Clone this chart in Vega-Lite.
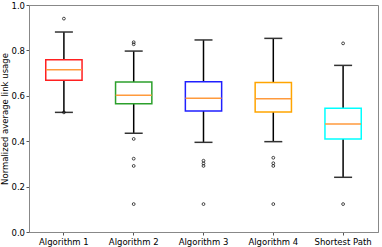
{
  "$schema": "https://vega.github.io/schema/vega-lite/v6.json",
  "width": 349,
  "height": 227,
  "autosize": "none",
  "padding": {"left": 29, "top": 5, "right": 4, "bottom": 15},
  "background": "white",
  "config": {
    "font": "DejaVu Sans",
    "view": {"stroke": "#888", "strokeWidth": 1},
    "axis": {
      "labelFont": "DejaVu Sans",
      "labelFontSize": 8.5,
      "labelColor": "black",
      "titleFont": "DejaVu Sans",
      "titleFontSize": 8.5,
      "titleFontWeight": "normal",
      "titleColor": "black",
      "domainColor": "#888",
      "tickColor": "#555",
      "tickSize": 3,
      "grid": false
    }
  },
  "datasets": {
    "boxes": [
      {"algo": "Algorithm 1", "lower": 0.527, "q1": 0.668, "median": 0.715, "q3": 0.759, "upper": 0.881},
      {"algo": "Algorithm 2", "lower": 0.435, "q1": 0.565, "median": 0.602, "q3": 0.661, "upper": 0.797},
      {"algo": "Algorithm 3", "lower": 0.395, "q1": 0.533, "median": 0.589, "q3": 0.662, "upper": 0.846},
      {"algo": "Algorithm 4", "lower": 0.398, "q1": 0.529, "median": 0.587, "q3": 0.659, "upper": 0.853},
      {"algo": "Shortest Path", "lower": 0.241, "q1": 0.410, "median": 0.476, "q3": 0.545, "upper": 0.734}
    ],
    "outliers": [
      {"algo": "Algorithm 1", "value": 0.94},
      {"algo": "Algorithm 1", "value": 0.527},
      {"algo": "Algorithm 2", "value": 0.836},
      {"algo": "Algorithm 2", "value": 0.827},
      {"algo": "Algorithm 2", "value": 0.41},
      {"algo": "Algorithm 2", "value": 0.323},
      {"algo": "Algorithm 2", "value": 0.291},
      {"algo": "Algorithm 2", "value": 0.123},
      {"algo": "Algorithm 3", "value": 0.314},
      {"algo": "Algorithm 3", "value": 0.302},
      {"algo": "Algorithm 3", "value": 0.291},
      {"algo": "Algorithm 3", "value": 0.123},
      {"algo": "Algorithm 4", "value": 0.327},
      {"algo": "Algorithm 4", "value": 0.303},
      {"algo": "Algorithm 4", "value": 0.291},
      {"algo": "Algorithm 4", "value": 0.123},
      {"algo": "Shortest Path", "value": 0.831},
      {"algo": "Shortest Path", "value": 0.123}
    ]
  },
  "encoding": {
    "x": {
      "field": "algo",
      "type": "nominal",
      "sort": null,
      "scale": {"type": "band", "paddingInner": 0, "paddingOuter": 0},
      "axis": {"title": null, "labelAngle": 0, "labelPadding": 2}
    }
  },
  "layer": [
    {
      "data": {"name": "boxes"},
      "mark": {"type": "rule", "color": "black", "strokeWidth": 1.5},
      "encoding": {
        "y": {
          "field": "lower",
          "type": "quantitative",
          "scale": {"domain": [0, 1], "nice": false},
          "axis": {"title": "Normalized average link usage", "format": ".1f", "values": [0, 0.2, 0.4, 0.6, 0.8, 1.0], "labelPadding": 1.5, "titlePadding": 1.5}
        },
        "y2": {"field": "upper"}
      }
    },
    {
      "data": {"name": "boxes"},
      "mark": {"type": "bar", "fill": "white", "strokeWidth": 1.5, "width": {"band": 0.52}},
      "encoding": {
        "y": {"field": "q1", "type": "quantitative"},
        "y2": {"field": "q3"},
        "stroke": {
          "field": "algo",
          "type": "nominal",
          "scale": {"domain": ["Algorithm 1", "Algorithm 2", "Algorithm 3", "Algorithm 4", "Shortest Path"], "range": ["#ff2020", "#2ca02c", "#1f1fff", "#ffa500", "#00ffff"]},
          "legend": null
        }
      }
    },
    {
      "data": {"name": "boxes"},
      "mark": {"type": "tick", "color": "#ff9a3c", "thickness": 1.5, "size": 36, "opacity": 1},
      "encoding": {"y": {"field": "median", "type": "quantitative"}}
    },
    {
      "data": {"name": "boxes"},
      "mark": {"type": "tick", "color": "#333", "thickness": 1.5, "size": 18, "opacity": 1},
      "encoding": {"y": {"field": "lower", "type": "quantitative"}}
    },
    {
      "data": {"name": "boxes"},
      "mark": {"type": "tick", "color": "#333", "thickness": 1.5, "size": 18, "opacity": 1},
      "encoding": {"y": {"field": "upper", "type": "quantitative"}}
    },
    {
      "data": {"name": "outliers"},
      "mark": {"type": "point", "shape": "circle", "filled": false, "color": "black", "strokeWidth": 0.7, "size": 8, "opacity": 1},
      "encoding": {"y": {"field": "value", "type": "quantitative"}}
    }
  ]
}
